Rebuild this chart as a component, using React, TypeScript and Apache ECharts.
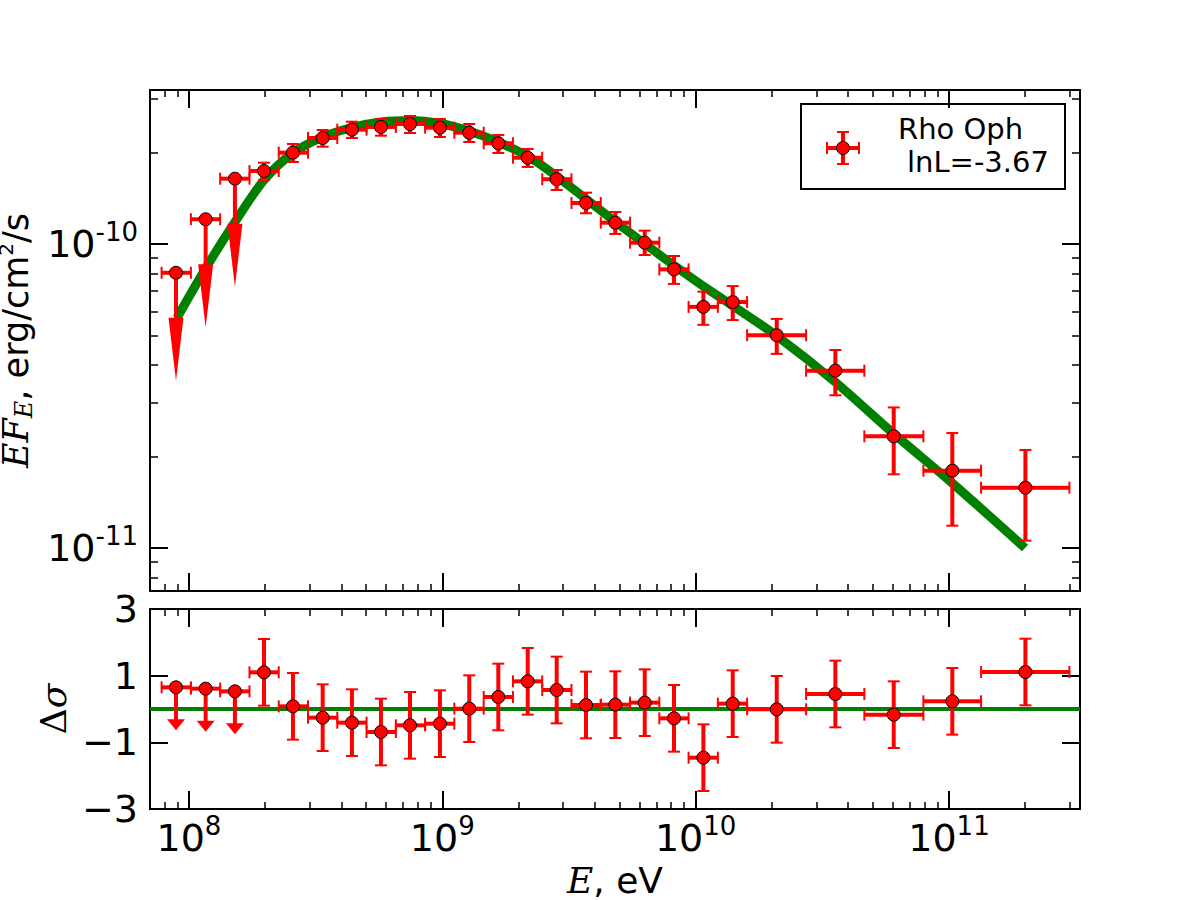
import React, { useEffect, useRef } from 'react';
import * as echarts from 'echarts';

const FONT = 'DejaVu Sans';
const SERIF = 'DejaVu Serif';
const RED = '#ff0000';
const GREEN = '#008000';

// axis limits
const X_MIN = 7.02e7;
const X_MAX = 3.29e11;
const Y_MIN = 7.22e-12;
const Y_MAX = 3.21e-10;
const R_MIN = -3;
const R_MAX = 3;

// tick values
const xMajor = [1e8, 1e9, 1e10, 1e11];
const xMinor = [8e7, 9e7, 2e8, 3e8, 4e8, 5e8, 6e8, 7e8, 8e8, 9e8, 2e9, 3e9, 4e9, 5e9, 6e9, 7e9, 8e9, 9e9,
  2e10, 3e10, 4e10, 5e10, 6e10, 7e10, 8e10, 9e10, 2e11, 3e11];
const yMajor = [1e-11, 1e-10];
const yMinor = [8e-12, 9e-12, 2e-11, 3e-11, 4e-11, 5e-11, 6e-11, 7e-11, 8e-11, 9e-11, 2e-10, 3e-10];
const rTicks = [-3, -1, 1, 3];

// data points (eV, erg/cm^2/s)
const energy = [8.89e7, 1.164e8, 1.519e8, 1.978e8, 2.574e8, 3.372e8, 4.40e8, 5.728e8, 7.457e8, 9.79e8,
  1.278e9, 1.664e9, 2.174e9, 2.829e9, 3.692e9, 4.82e9, 6.297e9, 8.217e9, 1.073e10, 1.401e10,
  2.09e10, 3.561e10, 6.053e10, 1.031e11, 2.003e11];
const energyLow = [7.80e7, 1.018e8, 1.328e8, 1.734e8, 2.262e8, 2.951e8, 3.851e8, 5.025e8, 6.557e8, 8.555e8,
  1.116e9, 1.457e9, 1.901e9, 2.48e9, 3.236e9, 4.223e9, 5.51e9, 7.19e9, 9.38e9, 1.224e10,
  1.597e10, 2.729e10, 4.634e10, 7.925e10, 1.339e11];
const energyHigh = [1.018e8, 1.328e8, 1.734e8, 2.262e8, 2.951e8, 3.851e8, 5.025e8, 6.557e8, 8.555e8, 1.116e9,
  1.457e9, 1.901e9, 2.48e9, 3.236e9, 4.223e9, 5.51e9, 7.19e9, 9.38e9, 1.224e10, 1.597e10,
  2.729e10, 4.634e10, 7.925e10, 1.339e11, 2.988e11];
const flux = [8.04e-11, 1.206e-10, 1.64e-10, 1.738e-10, 1.997e-10, 2.232e-10, 2.377e-10, 2.426e-10, 2.481e-10, 2.413e-10,
  2.323e-10, 2.144e-10, 1.922e-10, 1.633e-10, 1.364e-10, 1.175e-10, 1.01e-10, 8.25e-11, 6.21e-11, 6.44e-11,
  5.01e-11, 3.83e-11, 2.33e-11, 1.796e-11, 1.579e-11];
const fluxLow = [null, null, null, 1.623e-10, 1.861e-10, 2.089e-10, 2.232e-10, 2.271e-10, 2.318e-10, 2.249e-10,
  2.165e-10, 1.992e-10, 1.792e-10, 1.505e-10, 1.262e-10, 1.079e-10, 9.2e-11, 7.39e-11, 5.42e-11, 5.62e-11,
  4.35e-11, 3.18e-11, 1.747e-11, 1.184e-11, 1.057e-11];
const fluxHigh = [null, null, null, 1.851e-10, 2.133e-10, 2.371e-10, 2.525e-10, 2.577e-10, 2.636e-10, 2.577e-10,
  2.481e-10, 2.284e-10, 2.054e-10, 1.751e-10, 1.475e-10, 1.274e-10, 1.106e-10, 9.13e-11, 6.97e-11, 7.27e-11,
  5.67e-11, 4.48e-11, 2.9e-11, 2.39e-11, 2.1e-11];
const upperLimit = [1, 1, 1, 0, 0, 0, 0, 0, 0, 0, 0, 0, 0, 0, 0, 0, 0, 0, 0, 0, 0, 0, 0, 0, 0];

// residuals (sigma)
const residual = [0.65, 0.61, 0.53, 1.10, 0.08, -0.26, -0.41, -0.69, -0.49, -0.44,
  0.01, 0.36, 0.83, 0.57, 0.12, 0.13, 0.19, -0.28, -1.46, 0.16,
  -0.01, 0.45, -0.17, 0.23, 1.11];
const residualErr = [1, 1, 1, 1, 1, 1, 1, 1, 1, 1, 1, 1, 1, 1, 1, 1, 1, 1, 1, 1, 1, 1, 1, 1, 1];

// model curve
const modelEnergy = [8.97e7, 1.167e8, 1.519e8, 1.978e8, 2.574e8, 3.381e8, 4.40e8, 5.728e8, 7.457e8, 9.79e8,
  1.275e9, 1.66e9, 2.18e9, 2.837e9, 3.692e9, 4.806e9, 6.314e9, 8.217e9, 1.07e10, 1.405e10,
  2.096e10, 3.551e10, 6.072e10, 1.029e11, 1.997e11];
const modelFlux = [5.71e-11, 8.34e-11, 1.181e-10, 1.623e-10, 1.992e-10, 2.249e-10, 2.416e-10, 2.519e-10, 2.548e-10, 2.491e-10,
  2.353e-10, 2.165e-10, 1.94e-10, 1.667e-10, 1.406e-10, 1.186e-10, 1.0e-10, 8.5e-11, 7.27e-11, 6.25e-11,
  4.98e-11, 3.52e-11, 2.371e-11, 1.636e-11, 1.0e-11];

const legendName = 'Rho Oph';
const legendStat = 'lnL=-3.67';

const black = { color: '#000', width: 2 };

function logAxis(kind: 'x' | 'y', gridIndex: number, position: string, ticks: number[], len: number, min: number, max: number, extra: any = {}) {
  return {
    type: 'log', logBase: 10, gridIndex, position, min, max,
    axisLine: { show: true, onZero: false, lineStyle: black },
    axisTick: { show: true, inside: true, length: len, customValues: ticks, lineStyle: { color: '#000', width: len > 10 ? 2 : 1.5 } },
    axisLabel: { show: false },
    splitLine: { show: false },
    minorTick: { show: false },
    minorSplitLine: { show: false },
    ...extra,
  };
}

const powRich = {
  b: { fontSize: 38, lineHeight: 50, fontFamily: FONT, color: '#000' },
  s: { fontSize: 26, verticalAlign: 'top', fontFamily: FONT, color: '#000' },
};
const powFmt = (v: number) => `{b|10}{s|${Math.round(Math.log10(v))}}`;

function makeRenderer(shaft: number, head: number, hw: number) {
  return (params: any, api: any) => {
    const x = api.value(0), y = api.value(1);
    const xl = api.value(2), xh = api.value(3);
    const yl = api.value(4), yh = api.value(5);
    const ul = api.value(6);
    const p = api.coord([x, y]);
    const pl = api.coord([xl, y]);
    const ph = api.coord([xh, y]);
    const children: any[] = [
      { type: 'line', shape: { x1: pl[0], y1: p[1], x2: ph[0], y2: p[1] }, style: { stroke: RED, lineWidth: 4 } },
      { type: 'line', shape: { x1: pl[0], y1: p[1] - 6, x2: pl[0], y2: p[1] + 6 }, style: { stroke: RED, lineWidth: 2 } },
      { type: 'line', shape: { x1: ph[0], y1: p[1] - 6, x2: ph[0], y2: p[1] + 6 }, style: { stroke: RED, lineWidth: 2 } },
    ];
    if (ul) {
      children.push({ type: 'line', shape: { x1: p[0], y1: p[1], x2: p[0], y2: p[1] + shaft + 2 }, style: { stroke: RED, lineWidth: 4 } });
      children.push({ type: 'polygon', shape: { points: [[p[0] - hw, p[1] + shaft], [p[0] + hw, p[1] + shaft], [p[0], p[1] + shaft + head]] }, style: { fill: RED } });
    } else {
      const lo = api.coord([x, yl]);
      const hi = api.coord([x, yh]);
      children.push({ type: 'line', shape: { x1: p[0], y1: lo[1], x2: p[0], y2: hi[1] }, style: { stroke: RED, lineWidth: 4 } });
      children.push({ type: 'line', shape: { x1: p[0] - 6, y1: lo[1], x2: p[0] + 6, y2: lo[1] }, style: { stroke: RED, lineWidth: 2 } });
      children.push({ type: 'line', shape: { x1: p[0] - 6, y1: hi[1], x2: p[0] + 6, y2: hi[1] }, style: { stroke: RED, lineWidth: 2 } });
    }
    return { type: 'group', children };
  };
}

export default function App() {
  const ref = useRef<HTMLDivElement>(null);
  useEffect(() => {
    const chart = echarts.init(ref.current!, null, { renderer: 'svg' });
    const topErr = energy.map((e, i) => [e, flux[i], energyLow[i], energyHigh[i], fluxLow[i], fluxHigh[i], upperLimit[i]]);
    const botErr = energy.map((e, i) => [e, residual[i], energyLow[i], energyHigh[i], residual[i] - residualErr[i], residual[i] + residualErr[i], upperLimit[i]]);

    const option: any = {
      animation: false,
      backgroundColor: '#fff',
      textStyle: { fontFamily: FONT },
      grid: [
        { left: 150, top: 90, width: 930, height: 501, containLabel: false, outerBoundsMode: 'none' },
        { left: 150, top: 609, width: 930, height: 200, containLabel: false, outerBoundsMode: 'none' },
      ],
      xAxis: [
        logAxis('x', 0, 'bottom', xMajor, 18, X_MIN, X_MAX),
        logAxis('x', 0, 'bottom', xMinor, 7, X_MIN, X_MAX),
        logAxis('x', 0, 'top', xMajor, 18, X_MIN, X_MAX),
        logAxis('x', 0, 'top', xMinor, 7, X_MIN, X_MAX),
        logAxis('x', 1, 'bottom', xMajor, 18, X_MIN, X_MAX, {
          axisLabel: { show: true, customValues: xMajor, margin: 4, formatter: powFmt, rich: powRich },
          name: '{it|E}{n|, eV}',
          nameLocation: 'middle',
          nameGap: 49,
          nameTextStyle: {
            rich: {
              it: { fontFamily: SERIF, fontStyle: 'italic', fontSize: 36, lineHeight: 44, color: '#000' },
              n: { fontFamily: FONT, fontSize: 36, lineHeight: 44, color: '#000' },
            },
          },
        }),
        logAxis('x', 1, 'bottom', xMinor, 7, X_MIN, X_MAX),
        logAxis('x', 1, 'top', xMajor, 18, X_MIN, X_MAX),
        logAxis('x', 1, 'top', xMinor, 7, X_MIN, X_MAX),
      ],
      yAxis: [
        logAxis('y', 0, 'left', yMajor, 18, Y_MIN, Y_MAX, {
          axisLabel: { show: true, customValues: yMajor, margin: 12, formatter: powFmt, rich: powRich },
          name: '{it|EF}{sub|E}{n|, erg/cm}{sup|2}{n|/s}',
          nameLocation: 'middle',
          nameRotate: 90,
          nameGap: 101,
          nameTextStyle: {
            rich: {
              it: { fontFamily: SERIF, fontStyle: 'italic', fontSize: 35, lineHeight: 40, color: '#000' },
              sub: { fontFamily: SERIF, fontStyle: 'italic', fontSize: 24, verticalAlign: 'bottom', color: '#000' },
              n: { fontFamily: FONT, fontSize: 35, lineHeight: 40, color: '#000' },
              sup: { fontFamily: FONT, fontSize: 20, verticalAlign: 'top', color: '#000' },
            },
          },
        }),
        logAxis('y', 0, 'left', yMinor, 8, Y_MIN, Y_MAX),
        logAxis('y', 0, 'right', yMajor, 18, Y_MIN, Y_MAX),
        logAxis('y', 0, 'right', yMinor, 8, Y_MIN, Y_MAX),
        {
          type: 'value', gridIndex: 1, position: 'left', min: R_MIN, max: R_MAX,
          axisLine: { show: true, onZero: false, lineStyle: black },
          axisTick: { show: true, inside: true, length: 18, customValues: rTicks, lineStyle: black },
          axisLabel: {
            show: true, customValues: rTicks, margin: 12, fontSize: 38, fontFamily: FONT, color: '#000',
            formatter: (v: number) => (v < 0 ? '\u2212' + Math.abs(v) : String(v)),
          },
          splitLine: { show: false },
          name: '{n|\u0394}{it|\u03c3}',
          nameLocation: 'middle',
          nameRotate: 90,
          nameGap: 76,
          nameTextStyle: {
            rich: {
              n: { fontFamily: SERIF, fontSize: 36, lineHeight: 40, color: '#000' },
              it: { fontFamily: SERIF, fontStyle: 'italic', fontSize: 36, lineHeight: 40, color: '#000' },
            },
          },
        },
        {
          type: 'value', gridIndex: 1, position: 'right', min: R_MIN, max: R_MAX,
          axisLine: { show: true, onZero: false, lineStyle: black },
          axisTick: { show: true, inside: true, length: 18, customValues: rTicks, lineStyle: black },
          axisLabel: { show: false },
          splitLine: { show: false },
        },
      ],
      series: [
        {
          type: 'line', xAxisIndex: 0, yAxisIndex: 0, z: 2,
          data: modelEnergy.map((e, i) => [e, modelFlux[i]]),
          symbol: 'none', showSymbol: false, smooth: 0.3,
          lineStyle: { color: GREEN, width: 9, cap: 'butt' },
        },
        {
          type: 'custom', xAxisIndex: 0, yAxisIndex: 0, z: 3,
          data: topErr, encode: { x: 0, y: 1 },
          renderItem: makeRenderer(45, 63, 7.5),
        },
        {
          type: 'scatter', xAxisIndex: 0, yAxisIndex: 0, z: 4,
          data: energy.map((e, i) => [e, flux[i]]),
          symbolSize: 13,
          itemStyle: { color: RED, borderColor: '#000', borderWidth: 1, opacity: 1 },
        },
        {
          type: 'line', xAxisIndex: 4, yAxisIndex: 4, z: 2,
          data: [[X_MIN, 0], [X_MAX, 0]],
          symbol: 'none', showSymbol: false,
          lineStyle: { color: GREEN, width: 4 },
        },
        {
          type: 'custom', xAxisIndex: 4, yAxisIndex: 4, z: 3,
          data: botErr, encode: { x: 0, y: 1 },
          renderItem: makeRenderer(32, 11, 9),
        },
        {
          type: 'scatter', xAxisIndex: 4, yAxisIndex: 4, z: 4,
          data: energy.map((e, i) => [e, residual[i]]),
          symbolSize: 13,
          itemStyle: { color: RED, borderColor: '#000', borderWidth: 1, opacity: 1 },
        },
      ],
      graphic: [
        {
          type: 'group', z: 100,
          children: [
            { type: 'rect', shape: { x: 801, y: 104, width: 264, height: 85 }, style: { fill: '#fff', stroke: '#000', lineWidth: 2 } },
            { type: 'line', shape: { x1: 827, y1: 148, x2: 859, y2: 148 }, style: { stroke: RED, lineWidth: 4 } },
            { type: 'line', shape: { x1: 827, y1: 142, x2: 827, y2: 154 }, style: { stroke: RED, lineWidth: 2 } },
            { type: 'line', shape: { x1: 859, y1: 142, x2: 859, y2: 154 }, style: { stroke: RED, lineWidth: 2 } },
            { type: 'line', shape: { x1: 843, y1: 132, x2: 843, y2: 164 }, style: { stroke: RED, lineWidth: 4 } },
            { type: 'line', shape: { x1: 837, y1: 132, x2: 849, y2: 132 }, style: { stroke: RED, lineWidth: 2 } },
            { type: 'line', shape: { x1: 837, y1: 164, x2: 849, y2: 164 }, style: { stroke: RED, lineWidth: 2 } },
            { type: 'circle', shape: { cx: 843, cy: 148, r: 6.5 }, style: { fill: RED, stroke: '#000', lineWidth: 1 } },
            { type: 'text', x: 898, y: 128.5, style: { text: legendName, fontFamily: FONT, fontSize: 29, fill: '#000', align: 'left', verticalAlign: 'middle' } },
            { type: 'text', x: 907, y: 162, style: { text: legendStat, fontFamily: FONT, fontSize: 29, fill: '#000', align: 'left', verticalAlign: 'middle' } },
          ],
        },
      ],
    };
    chart.setOption(option);
    return () => chart.dispose();
  }, []);
  return <div ref={ref} style={{ position: 'absolute', left: 0, top: 0, width: 1200, height: 900, background: '#fff' }} />;
}
